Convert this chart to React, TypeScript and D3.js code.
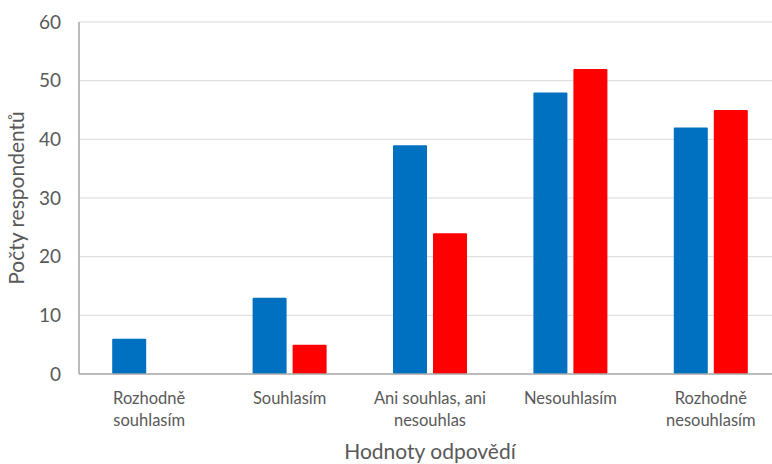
import React from "react";
import * as d3 from "d3";

const categories = ["Rozhodně\nsouhlasím", "Souhlasím", "Ani souhlas, ani\nnesouhlas", "Nesouhlasím", "Rozhodně\nnesouhlasím"];
const seriesA = [6, 13, 39, 48, 42];
const seriesB = [0, 5, 24, 52, 45];
const yTicks = [0, 10, 20, 30, 40, 50, 60];
const colors = ["#0070C0", "#FF0000"];

export default function App() {
  const W = 772, H = 464;
  const left = 79, right = 781, top = 22, bottom = 374;
  const x = d3.scaleBand().domain(categories).range([left, right]).paddingInner(0).paddingOuter(0);
  const y = d3.scaleLinear().domain([0, 60]).range([bottom, top]);
  const bw = 34, gap = 6;
  const font = "Lato, 'Open Sans', sans-serif";
  const txt = "#595959";
  return (
    <svg width={W} height={H} style={{ position: "absolute", left: 0, top: 0, overflow: "hidden" }}>
      <rect width={W} height={H} fill="#fff" />
      {yTicks.map(t => (
        <g key={t}>
          {t > 0 && <line x1={left} x2={right} y1={y(t)} y2={y(t)} stroke="#d9d9d9" strokeWidth={1} />}
          <text x={61} y={y(t)} dy="0.35em" textAnchor="end" fontFamily={font} fontSize={19} fill={txt}>{t}</text>
        </g>
      ))}
      {categories.map((c, i) => {
        const cx = x(c)! + x.bandwidth() / 2;
        const vals = [seriesA[i], seriesB[i]];
        return (
          <g key={c}>
            {vals.map((v, j) => v > 0 && (
              <rect key={j} x={j === 0 ? cx - gap / 2 - bw : cx + gap / 2} y={y(v)} width={bw} height={y(0) - y(v)} fill={colors[j]} rx={1} />
            ))}
            {c.split("\n").map((line, k) => (
              <text key={k} x={cx} y={404 + k * 22} textAnchor="middle" fontFamily={font} fontSize={16.5} fill={txt}>{line}</text>
            ))}
          </g>
        );
      })}
      <line x1={left} x2={left} y1={top} y2={bottom} stroke="#a6a6a6" strokeWidth={1.5} />
      <line x1={left} x2={right} y1={bottom} y2={bottom} stroke="#a6a6a6" strokeWidth={1.5} />
      <text x={430} y={459} textAnchor="middle" fontFamily={font} fontSize={21} fill={txt}>Hodnoty odpovědí</text>
      <text transform={`translate(24,198) rotate(-90)`} textAnchor="middle" fontFamily={font} fontSize={21} fill={txt}>Počty respondentů</text>
    </svg>
  );
}
